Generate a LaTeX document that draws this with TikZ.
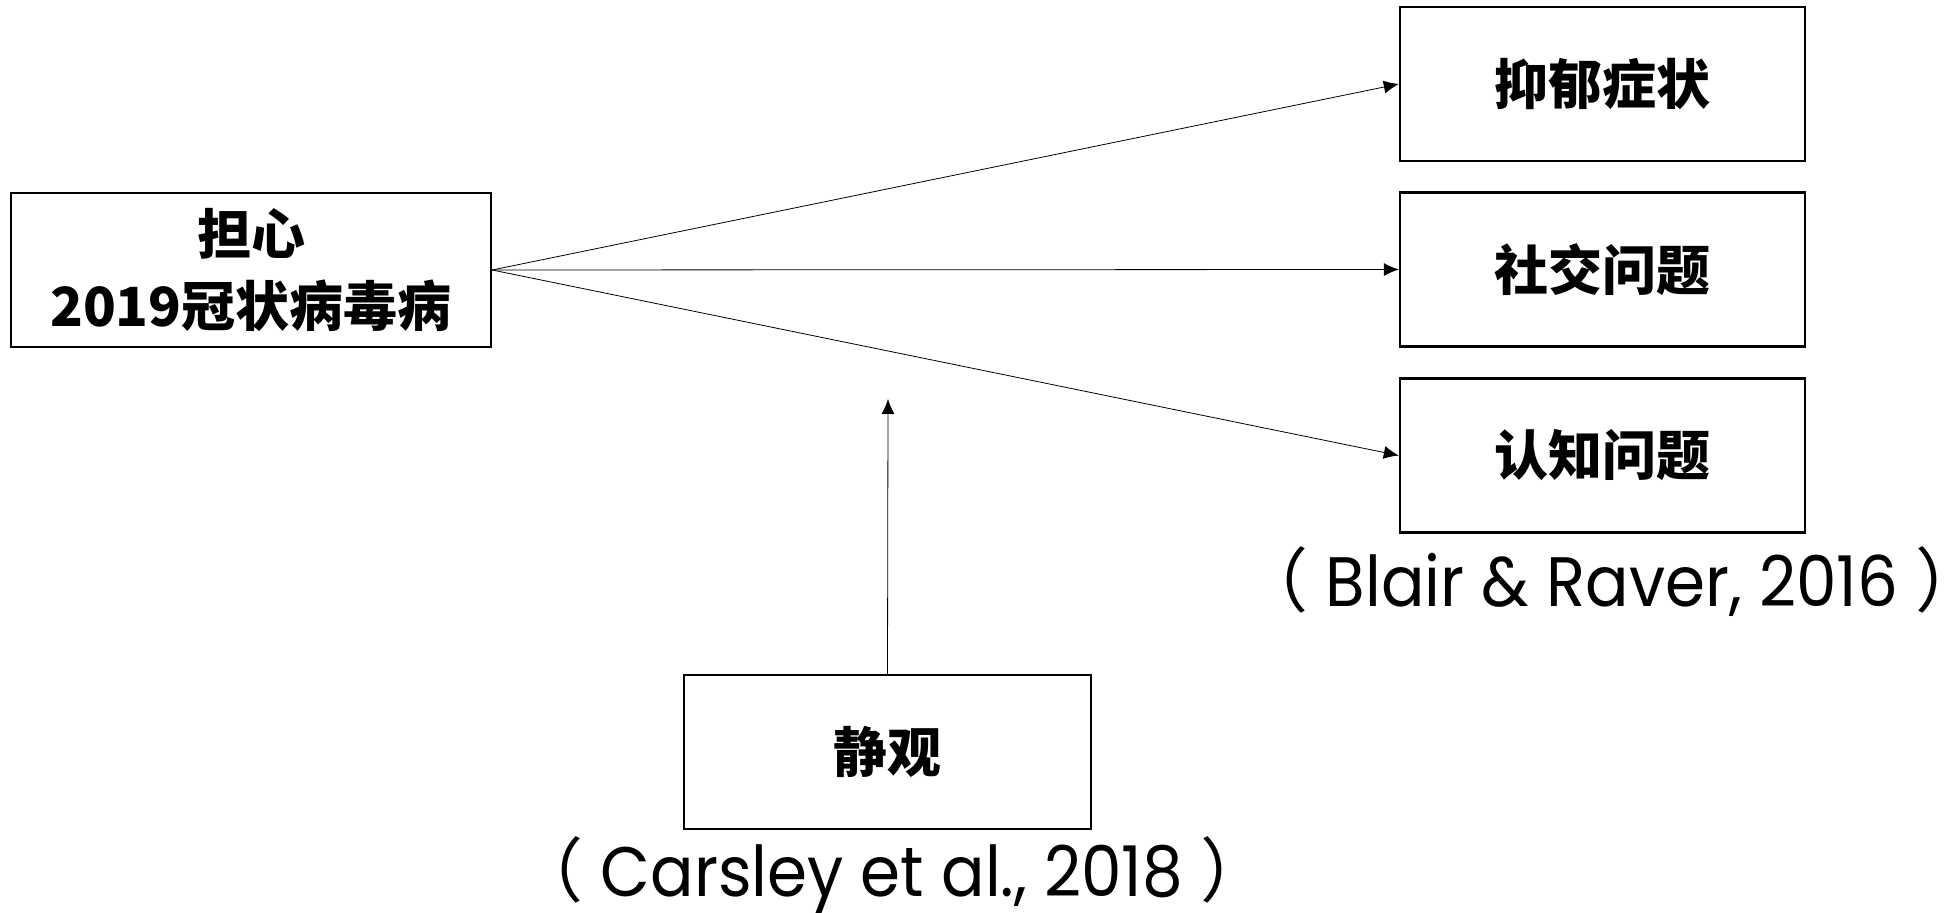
\documentclass[tikz,border=0pt]{standalone}
\usepackage{fontspec}
\usepackage{tikz}
\usetikzlibrary{arrows.meta, positioning}
\newfontfamily\cjk{Noto Sans CJK SC}
\newfontfamily\citefont{Poppins}[FakeStretch=0.92]
\tikzset{
    -{Latex[length=7.5pt,width=6.5pt]}, line width=1.2pt,
    box/.style = {rectangle, draw, line width=1.2pt, inner sep=0pt,
                  minimum height=77pt, align=center,
                  font=\cjk\bfseries\fontsize{27pt}{36pt}\selectfont},
    cite/.style = {inner sep=0pt, font=\citefont\fontsize{35pt}{40pt}\selectfont}
}
\begin{document}
\begin{tikzpicture}[x=0.5pt,y=-0.5pt]
  \useasboundingbox (0,0) rectangle (1959,913);

  \node[box, minimum width=240pt] (b0) at (251,270) {担心\\2019冠状病毒病};
  \node[box, minimum width=202.5pt] (b1) at (1602.5,84) {抑郁症状};
  \node[box, minimum width=202.5pt] (b2) at (1602.5,269.5) {社交问题};
  \node[box, minimum width=202.5pt] (b3) at (1602.5,455.5) {认知问题};
  \node[box, minimum width=203.5pt] (b4) at (887.5,752) {静观};

  \node[cite] (c1) at (1612,582) {{\cjk （}\ Blair \& Raver, 2016\ {\cjk ）}};
  \node[cite] (c2) at (892,876) {{\cjk （}\ Carsley et al., 2018\ {\cjk ）}};

  \coordinate (t0) at (888,399);

  \path (b0.east) edge (b1.west);
  \path (b0.east) edge (b2.west);
  \path (b0.east) edge (b3.west);
  \path (b4.north) edge (t0);
\end{tikzpicture}
\end{document}
